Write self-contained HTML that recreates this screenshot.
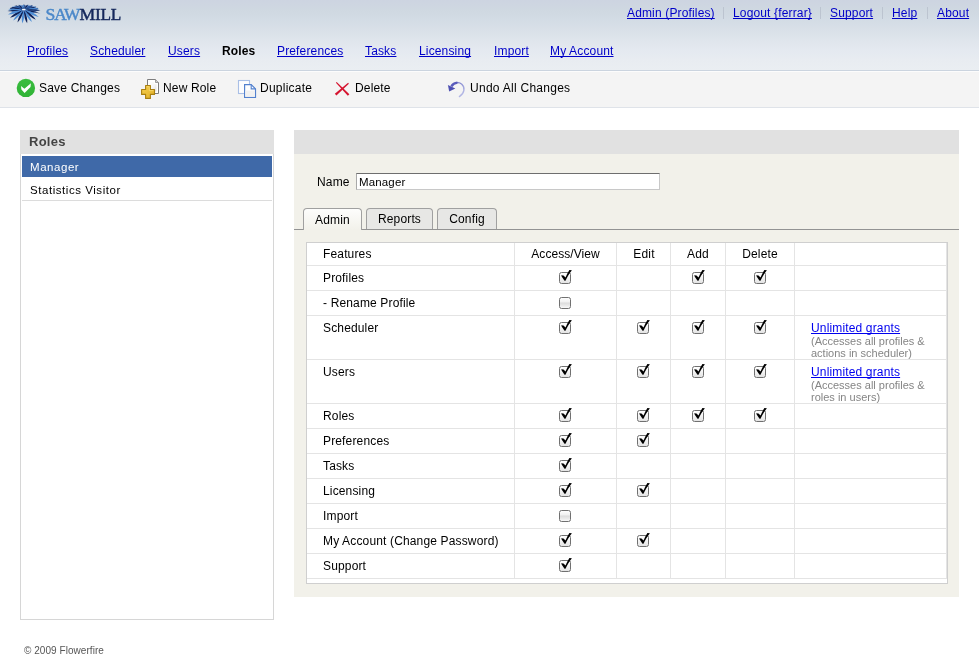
<!DOCTYPE html>
<html>
<head>
<meta charset="utf-8">
<title>Sawmill - Roles</title>
<style>
html,body{margin:0;padding:0;}
body{width:979px;height:668px;position:relative;overflow:hidden;background:#fff;font-family:"Liberation Sans",sans-serif;font-size:12px;color:#000;letter-spacing:0.15px;}
a{color:#0000ee;text-decoration:underline;text-decoration-skip-ink:none;}
a.h{color:#0000c8;}
.abs{position:absolute;}
#wrap{position:absolute;left:0;top:0;width:979px;height:668px;will-change:transform;}
#header{left:0;top:0;width:979px;height:70px;background:linear-gradient(#cdd4e1 0px,#cfd8e1 10px,#d3dce5 20px,#d9e0e8 30px,#dfe5ec 40px,#e4e9f0 50px,#e8ecf1 60px,#eaeef2 70px);}
#hline{left:0;top:70px;width:979px;height:1px;background:#cbd4df;}
#hline2{left:0;top:71px;width:979px;height:1px;background:#fcfcfc;}
#toolbar{left:0;top:71px;width:979px;height:36px;background:#f4f4f4;}
#tline{left:0;top:107px;width:979px;height:1px;background:#dfe3e9;}
.t{position:absolute;white-space:nowrap;line-height:14px;}
.sep{position:absolute;top:7px;width:1px;height:12px;background:#bcc4d0;}
.lg{white-space:nowrap;font-family:"Liberation Serif",serif;line-height:20px;}
.lg{-webkit-text-stroke:0.45px currentColor;}
.s1{font-size:17.7px;}
.s2{font-size:17.3px;}
#lgS{letter-spacing:-1.2px;}
#lgM{letter-spacing:-0.3px;}
/* left panel */
#lp{left:20px;top:130px;width:252px;height:488px;border:1px solid #d6d6d6;background:#fff;}
#lph{left:20px;top:130px;width:254px;height:24px;background:#e1e1e1;}
#sel{left:22px;top:156px;width:250px;height:21px;background:#3f69a8;}
#lrow{left:22px;top:200px;width:250px;height:1px;background:#dcdcdc;}
.vd{letter-spacing:0.55px;font-size:11.5px;}
/* right panel */
#rp{left:294px;top:130px;width:665px;height:467px;background:#f2f1ea;}
#rph{left:294px;top:130px;width:665px;height:24px;background:#e1e1e1;}
#inp{left:356px;top:173px;width:302px;height:15px;background:#fff;border:1px solid #c8c8c8;border-top-color:#6e6e6e;border-left-color:#a9a9a9;}
#tabline{left:294px;top:229px;width:665px;height:1px;background:#939393;}
.tab{position:absolute;top:208px;height:21px;box-sizing:border-box;border:1px solid #a0a0a0;border-bottom:none;border-radius:4px 4px 0 0;background:#e7e7e5;text-align:center;line-height:20px;}
.tab.on{background:linear-gradient(#fdfdfc,#f2f1ea);height:22px;line-height:22px;}
/* table */
#tbl{left:306px;top:242px;width:640px;height:340px;background:#fff;border:1px solid #cfcfcf;}
.hl{position:absolute;left:307px;width:640px;height:1px;background:#e4e4e4;}
.vl{position:absolute;top:243px;width:1px;height:336px;background:#e4e4e4;}
.cb{position:absolute;width:10px;height:10px;border:1px solid #707070;border-radius:2.5px;background:linear-gradient(#fdfdfd 0%,#f2f2f2 35%,#dddddd 52%,#e9e9e9 75%,#f8f8f8 100%);}
.cb.on{background:linear-gradient(#ffffff,#f7f7f7 40%,#e3e3e3);}
.ck{position:absolute;width:16px;height:16px;}
.note{position:absolute;font-size:11px;color:#858585;line-height:12px;white-space:nowrap;}
</style>
</head>
<body>
<div id="wrap">
<div id="header" class="abs"></div>
<div id="hline" class="abs"></div>
<div id="toolbar" class="abs"></div>
<div id="tline" class="abs"></div>
<div id="hline2" class="abs"></div>


<!--ICONS-->
<svg class="abs" style="left:0;top:0;" width="48" height="28" viewBox="0 0 48 28"><ellipse cx="24" cy="9.6" rx="13.6" ry="4.3" fill="#2f62ae" opacity="0.8"/><path d="M23.8 9.5 L8.86 10.09" stroke="#5a98dc" stroke-width="0.9"/><path d="M23.8 9.5 L10.08 8.34" stroke="#0e2158" stroke-width="0.9"/><path d="M23.8 9.5 L12.44 6.81" stroke="#5a98dc" stroke-width="0.9"/><path d="M23.8 9.5 L15.73 5.62" stroke="#0e2158" stroke-width="0.9"/><path d="M23.8 9.5 L19.69 4.86" stroke="#5a98dc" stroke-width="0.9"/><path d="M23.8 9.5 L24.00 4.60" stroke="#0e2158" stroke-width="0.9"/><path d="M23.8 9.5 L28.31 4.86" stroke="#5a98dc" stroke-width="0.9"/><path d="M23.8 9.5 L32.27 5.62" stroke="#0e2158" stroke-width="0.9"/><path d="M23.8 9.5 L35.56 6.81" stroke="#5a98dc" stroke-width="0.9"/><path d="M23.8 9.5 L37.92 8.34" stroke="#0e2158" stroke-width="0.9"/><path d="M23.8 9.5 L39.14 10.09" stroke="#5a98dc" stroke-width="0.9"/><path d="M24.97 9.78 Q33.04 13.26 40.33 13.48 Q33.74 10.35 24.97 9.78 Z" fill="#0e2158"/><path d="M24.87 10.03 Q31.48 15.78 38.73 16.92 Q33.44 11.82 24.87 10.03 Z" fill="#4e8ed6"/><path d="M24.71 10.28 Q29.33 17.18 35.82 19.86 Q32.22 13.84 24.71 10.28 Z" fill="#0e2158"/><path d="M24.45 10.51 Q26.62 17.97 31.87 22.04 Q30.34 15.58 24.45 10.51 Z" fill="#4e8ed6"/><path d="M24.09 10.66 Q23.63 18.02 27.21 23.27 Q27.92 16.96 24.09 10.66 Z" fill="#0e2158"/><path d="M23.67 10.69 Q20.71 17.34 22.26 23.43 Q25.11 17.82 23.67 10.69 Z" fill="#4e8ed6"/><path d="M23.28 10.58 Q18.14 16.08 17.47 22.52 Q22.12 18.02 23.28 10.58 Z" fill="#0e2158"/><path d="M22.97 10.37 Q16.09 14.42 13.27 20.61 Q19.29 17.46 22.97 10.37 Z" fill="#4e8ed6"/><path d="M22.77 10.12 Q14.66 12.46 10.01 17.87 Q16.95 16.24 22.77 10.12 Z" fill="#0e2158"/><path d="M22.66 9.86 Q13.96 10.32 8.00 14.54 Q15.31 14.53 22.66 9.86 Z" fill="#4e8ed6"/><path d="M22.61 9.62 Q14.15 8.93 7.41 11.09 Q14.44 11.91 22.61 9.62 Z" fill="#0e2158"/><path d="M22.60 9.46 Q14.85 7.74 8.29 9.04 Q14.76 10.73 22.60 9.46 Z" fill="#4e8ed6"/><path d="M22.62 9.29 Q16.38 6.68 10.57 7.19 Q15.87 9.63 22.62 9.29 Z" fill="#0e2158"/><path d="M22.68 9.06 Q18.68 5.90 14.04 5.70 Q17.60 8.69 22.68 9.06 Z" fill="#2b5ca8"/><path d="M22.90 8.70 Q21.66 5.60 18.40 4.71 Q19.68 7.84 22.90 8.70 Z" fill="#0e2158"/><path d="M23.68 8.31 Q24.97 6.33 23.26 4.31 Q22.00 6.64 23.68 8.31 Z" fill="#4e8ed6"/><path d="M24.59 8.60 Q27.46 7.60 28.18 4.53 Q25.22 5.63 24.59 8.60 Z" fill="#0e2158"/><path d="M24.89 8.99 Q29.61 8.45 32.73 5.35 Q28.35 5.73 24.89 8.99 Z" fill="#2b5ca8"/><path d="M24.97 9.24 Q31.49 9.33 36.50 6.69 Q30.84 6.41 24.97 9.24 Z" fill="#0e2158"/><path d="M25.00 9.42 Q32.81 10.38 39.17 8.45 Q32.61 7.40 25.00 9.42 Z" fill="#4e8ed6"/><path d="M25.00 9.57 Q33.39 11.55 40.48 10.46 Q33.56 8.57 25.00 9.57 Z" fill="#0e2158"/><ellipse cx="23.8" cy="9.5" rx="1.9" ry="0.85" fill="#f4f7fb"/></svg>
<span class="abs lg" id="lgS" style="left:45.5px;top:4px;color:#4b88c9;"><span class="s1">S</span><span class="s2">AW</span></span><span class="abs lg" id="lgM" style="left:79.6px;top:4px;color:#14275b;"><span class="s1">M</span><span class="s2">ILL</span></span>
<svg class="abs" style="left:12px;top:74px;" width="30" height="30" viewBox="12 74 30 30">
<defs><linearGradient id="gsv" x1="0" y1="0" x2="0" y2="1"><stop offset="0" stop-color="#3bbd40"/><stop offset="1" stop-color="#2fb335"/></linearGradient></defs>
<circle cx="25.9" cy="87.9" r="9.2" fill="url(#gsv)"/>
<path d="M21 85.9 L24.4 88.8 L30.9 83.2 L30.5 87.1 L24.6 92.9 L21.4 89.4 Z" fill="#fff"/>
</svg>
<svg class="abs" style="left:138px;top:76px;" width="26" height="26" viewBox="138 76 26 26">
<defs>
<linearGradient id="gpg" x1="0" y1="0" x2="1" y2="1"><stop offset="0" stop-color="#ffffff"/><stop offset="0.5" stop-color="#f4f4f4"/><stop offset="1" stop-color="#dcdcdc"/></linearGradient>
<linearGradient id="gpl" x1="0" y1="0" x2="1" y2="1"><stop offset="0" stop-color="#f6cf52"/><stop offset="0.5" stop-color="#ecc03a"/><stop offset="1" stop-color="#dfae2a"/></linearGradient>
</defs>
<path d="M147.5 79.5 H155.5 L158.5 82.5 V93.5 H147.5 Z" fill="#fff" stroke="#7d7d7d" stroke-width="1"/>
<path d="M149.5 82 H154 V84 H156.5 V91.5 H149.5 Z" fill="url(#gpg)" opacity="0.9"/>
<path d="M155.5 79.5 V82.5 H158.5" fill="#d0d0d0" stroke="#8a8a8a" stroke-width="0.8"/>
<path d="M145.6 85.5 H150.4 V89.5 H154.5 V94.4 H150.4 V98.4 H145.6 V94.4 H141.6 V89.5 H145.6 Z" fill="url(#gpl)" stroke="#a97f10" stroke-width="1.1" stroke-linejoin="round"/>
<path d="M146.7 86.7 H149.3 V90.6 H153.3" fill="none" stroke="#f9de7c" stroke-width="0.8" opacity="0.9"/>
</svg>
<svg class="abs" style="left:234px;top:76px;" width="28" height="26" viewBox="234 76 28 26">
<rect x="238.5" y="80.5" width="11" height="13" fill="#fdfdfe" stroke="#a9bfe6" stroke-width="1.1"/>
<path d="M244.6 84.6 H251.2 L255.5 88.9 V97.4 H244.6 Z" fill="#fefefe" stroke="#5381ce" stroke-width="1.2" stroke-linejoin="miter"/>
<rect x="245.3" y="90.5" width="9.6" height="6.3" fill="#f1f1f1"/>
<path d="M251.2 84.6 V88.9 H255.5" fill="none" stroke="#5381ce" stroke-width="1.1"/>
</svg>
<svg class="abs" style="left:330px;top:76px;" width="24" height="26" viewBox="330 76 24 26">
<path d="M335.91 82.79 L347.82 95.67 L349.38 94.13 L336.69 82.01 Z" fill="#d5142f"/>
<path d="M348.1 82.75 L334.81 93.7 L336.39 95.5 L348.9 83.65 Z" fill="#d5142f"/>
</svg>
<svg class="abs" style="left:444px;top:78px;" width="26" height="24" viewBox="444 78 26 24">
<defs><linearGradient id="gun" x1="0" y1="0" x2="1" y2="1"><stop offset="0" stop-color="#4c4eb6"/><stop offset="0.4" stop-color="#8a8ed2"/><stop offset="1" stop-color="#c3c7ec"/></linearGradient></defs>
<path d="M451.8 85.6 C454 82.6 458.8 81.6 461.8 84.2 C465.4 87.4 464.6 93.2 459.4 96.6" fill="none" stroke="url(#gun)" stroke-width="1.35" stroke-linecap="round"/>
<path d="M451.4 86.4 C452.6 84.2 455 82.8 457.4 82.6" fill="none" stroke="#5a5cbc" stroke-width="2.3"/>
<path d="M447.9 85 L455.3 88.4 L449.2 91.5 Z" fill="#4d50b2"/>
</svg>
<!--/ICONS-->
<!-- top right links -->
<a class="t h" style="left:627px;top:6px;">Admin (Profiles)</a>
<div class="sep" style="left:723px;"></div>
<a class="t h" style="left:733px;top:6px;">Logout {ferrar}</a>
<div class="sep" style="left:820px;"></div>
<a class="t h" style="left:830px;top:6px;">Support</a>
<div class="sep" style="left:882px;"></div>
<a class="t h" style="left:892px;top:6px;">Help</a>
<div class="sep" style="left:927px;"></div>
<a class="t h" style="left:937px;top:6px;">About</a>

<!-- nav -->
<a class="t h" style="left:27px;top:44px;">Profiles</a>
<a class="t h" style="left:90px;top:44px;">Scheduler</a>
<a class="t h" style="left:168px;top:44px;">Users</a>
<span class="t" style="left:222px;top:44px;font-weight:bold;">Roles</span>
<a class="t h" style="left:277px;top:44px;">Preferences</a>
<a class="t h" style="left:365px;top:44px;">Tasks</a>
<a class="t h" style="left:419px;top:44px;">Licensing</a>
<a class="t h" style="left:494px;top:44px;">Import</a>
<a class="t h" style="left:550px;top:44px;">My Account</a>

<!-- toolbar text -->
<span class="t" style="left:39px;top:81px;letter-spacing:0.2px;">Save Changes</span>
<span class="t" style="left:163px;top:81px;">New Role</span>
<span class="t" style="left:260px;top:81px;letter-spacing:0.25px;">Duplicate</span>
<span class="t" style="left:355px;top:81px;">Delete</span>
<span class="t" style="left:470px;top:81px;letter-spacing:0.27px;">Undo All Changes</span>

<!-- left panel -->
<div id="lp" class="abs"></div>
<div id="lph" class="abs"></div>
<span class="t" style="left:29px;top:135px;font-weight:bold;font-size:13px;color:#444;letter-spacing:0.25px;">Roles</span>
<div id="sel" class="abs"></div>
<span class="t vd" style="left:30px;top:160px;color:#fff;">Manager</span>
<span class="t vd" style="left:30px;top:183px;">Statistics Visitor</span>
<div id="lrow" class="abs"></div>

<!-- right panel -->
<div id="rp" class="abs"></div>
<div id="rph" class="abs"></div>
<span class="t" style="left:317px;top:175px;">Name</span>
<div id="inp" class="abs"></div>
<span class="t" style="left:359px;top:175px;font-size:11.5px;">Manager</span>
<div id="tabline" class="abs"></div>
<div class="tab on" style="left:303px;width:59px;">Admin</div>
<div class="tab" style="left:366px;width:67px;">Reports</div>
<div class="tab" style="left:437px;width:60px;">Config</div>

<div id="tbl" class="abs"></div>
<!--TBL-->
<div class="hl" style="top:265px;"></div>
<div class="hl" style="top:290px;"></div>
<div class="hl" style="top:315px;"></div>
<div class="hl" style="top:359px;"></div>
<div class="hl" style="top:403px;"></div>
<div class="hl" style="top:428px;"></div>
<div class="hl" style="top:453px;"></div>
<div class="hl" style="top:478px;"></div>
<div class="hl" style="top:503px;"></div>
<div class="hl" style="top:528px;"></div>
<div class="hl" style="top:553px;"></div>
<div class="hl" style="top:578px;"></div>
<div class="vl" style="left:514px;"></div>
<div class="vl" style="left:616px;"></div>
<div class="vl" style="left:670px;"></div>
<div class="vl" style="left:725px;"></div>
<div class="vl" style="left:794px;"></div>
<div class="vl" style="left:946px;"></div>
<span class="t" style="left:323px;top:247px;">Features</span>
<span class="t" style="left:323px;top:271px;">Profiles</span>
<div class="cb on" style="left:559px;top:272px;"></div><svg class="ck" style="left:559px;top:268px;" viewBox="0 0 16 16"><path d="M2.2 7.2 L4.5 7.5 L6.5 9.4 C7.6 6.7 9 4.2 10.4 2.1 L12.9 2.3 C10.4 5.4 8.2 9 6.5 12.8 L5.5 12.8 L2.8 8.7 Z" fill="#000"/></svg>
<div class="cb on" style="left:692px;top:272px;"></div><svg class="ck" style="left:692px;top:268px;" viewBox="0 0 16 16"><path d="M2.2 7.2 L4.5 7.5 L6.5 9.4 C7.6 6.7 9 4.2 10.4 2.1 L12.9 2.3 C10.4 5.4 8.2 9 6.5 12.8 L5.5 12.8 L2.8 8.7 Z" fill="#000"/></svg>
<div class="cb on" style="left:754px;top:272px;"></div><svg class="ck" style="left:754px;top:268px;" viewBox="0 0 16 16"><path d="M2.2 7.2 L4.5 7.5 L6.5 9.4 C7.6 6.7 9 4.2 10.4 2.1 L12.9 2.3 C10.4 5.4 8.2 9 6.5 12.8 L5.5 12.8 L2.8 8.7 Z" fill="#000"/></svg>
<span class="t" style="left:323px;top:296px;">- Rename Profile</span>
<div class="cb" style="left:559px;top:297px;"></div>
<span class="t" style="left:323px;top:321px;">Scheduler</span>
<div class="cb on" style="left:559px;top:322px;"></div><svg class="ck" style="left:559px;top:318px;" viewBox="0 0 16 16"><path d="M2.2 7.2 L4.5 7.5 L6.5 9.4 C7.6 6.7 9 4.2 10.4 2.1 L12.9 2.3 C10.4 5.4 8.2 9 6.5 12.8 L5.5 12.8 L2.8 8.7 Z" fill="#000"/></svg>
<div class="cb on" style="left:637px;top:322px;"></div><svg class="ck" style="left:637px;top:318px;" viewBox="0 0 16 16"><path d="M2.2 7.2 L4.5 7.5 L6.5 9.4 C7.6 6.7 9 4.2 10.4 2.1 L12.9 2.3 C10.4 5.4 8.2 9 6.5 12.8 L5.5 12.8 L2.8 8.7 Z" fill="#000"/></svg>
<div class="cb on" style="left:692px;top:322px;"></div><svg class="ck" style="left:692px;top:318px;" viewBox="0 0 16 16"><path d="M2.2 7.2 L4.5 7.5 L6.5 9.4 C7.6 6.7 9 4.2 10.4 2.1 L12.9 2.3 C10.4 5.4 8.2 9 6.5 12.8 L5.5 12.8 L2.8 8.7 Z" fill="#000"/></svg>
<div class="cb on" style="left:754px;top:322px;"></div><svg class="ck" style="left:754px;top:318px;" viewBox="0 0 16 16"><path d="M2.2 7.2 L4.5 7.5 L6.5 9.4 C7.6 6.7 9 4.2 10.4 2.1 L12.9 2.3 C10.4 5.4 8.2 9 6.5 12.8 L5.5 12.8 L2.8 8.7 Z" fill="#000"/></svg>
<span class="t" style="left:323px;top:365px;">Users</span>
<div class="cb on" style="left:559px;top:366px;"></div><svg class="ck" style="left:559px;top:362px;" viewBox="0 0 16 16"><path d="M2.2 7.2 L4.5 7.5 L6.5 9.4 C7.6 6.7 9 4.2 10.4 2.1 L12.9 2.3 C10.4 5.4 8.2 9 6.5 12.8 L5.5 12.8 L2.8 8.7 Z" fill="#000"/></svg>
<div class="cb on" style="left:637px;top:366px;"></div><svg class="ck" style="left:637px;top:362px;" viewBox="0 0 16 16"><path d="M2.2 7.2 L4.5 7.5 L6.5 9.4 C7.6 6.7 9 4.2 10.4 2.1 L12.9 2.3 C10.4 5.4 8.2 9 6.5 12.8 L5.5 12.8 L2.8 8.7 Z" fill="#000"/></svg>
<div class="cb on" style="left:692px;top:366px;"></div><svg class="ck" style="left:692px;top:362px;" viewBox="0 0 16 16"><path d="M2.2 7.2 L4.5 7.5 L6.5 9.4 C7.6 6.7 9 4.2 10.4 2.1 L12.9 2.3 C10.4 5.4 8.2 9 6.5 12.8 L5.5 12.8 L2.8 8.7 Z" fill="#000"/></svg>
<div class="cb on" style="left:754px;top:366px;"></div><svg class="ck" style="left:754px;top:362px;" viewBox="0 0 16 16"><path d="M2.2 7.2 L4.5 7.5 L6.5 9.4 C7.6 6.7 9 4.2 10.4 2.1 L12.9 2.3 C10.4 5.4 8.2 9 6.5 12.8 L5.5 12.8 L2.8 8.7 Z" fill="#000"/></svg>
<span class="t" style="left:323px;top:409px;">Roles</span>
<div class="cb on" style="left:559px;top:410px;"></div><svg class="ck" style="left:559px;top:406px;" viewBox="0 0 16 16"><path d="M2.2 7.2 L4.5 7.5 L6.5 9.4 C7.6 6.7 9 4.2 10.4 2.1 L12.9 2.3 C10.4 5.4 8.2 9 6.5 12.8 L5.5 12.8 L2.8 8.7 Z" fill="#000"/></svg>
<div class="cb on" style="left:637px;top:410px;"></div><svg class="ck" style="left:637px;top:406px;" viewBox="0 0 16 16"><path d="M2.2 7.2 L4.5 7.5 L6.5 9.4 C7.6 6.7 9 4.2 10.4 2.1 L12.9 2.3 C10.4 5.4 8.2 9 6.5 12.8 L5.5 12.8 L2.8 8.7 Z" fill="#000"/></svg>
<div class="cb on" style="left:692px;top:410px;"></div><svg class="ck" style="left:692px;top:406px;" viewBox="0 0 16 16"><path d="M2.2 7.2 L4.5 7.5 L6.5 9.4 C7.6 6.7 9 4.2 10.4 2.1 L12.9 2.3 C10.4 5.4 8.2 9 6.5 12.8 L5.5 12.8 L2.8 8.7 Z" fill="#000"/></svg>
<div class="cb on" style="left:754px;top:410px;"></div><svg class="ck" style="left:754px;top:406px;" viewBox="0 0 16 16"><path d="M2.2 7.2 L4.5 7.5 L6.5 9.4 C7.6 6.7 9 4.2 10.4 2.1 L12.9 2.3 C10.4 5.4 8.2 9 6.5 12.8 L5.5 12.8 L2.8 8.7 Z" fill="#000"/></svg>
<span class="t" style="left:323px;top:434px;">Preferences</span>
<div class="cb on" style="left:559px;top:435px;"></div><svg class="ck" style="left:559px;top:431px;" viewBox="0 0 16 16"><path d="M2.2 7.2 L4.5 7.5 L6.5 9.4 C7.6 6.7 9 4.2 10.4 2.1 L12.9 2.3 C10.4 5.4 8.2 9 6.5 12.8 L5.5 12.8 L2.8 8.7 Z" fill="#000"/></svg>
<div class="cb on" style="left:637px;top:435px;"></div><svg class="ck" style="left:637px;top:431px;" viewBox="0 0 16 16"><path d="M2.2 7.2 L4.5 7.5 L6.5 9.4 C7.6 6.7 9 4.2 10.4 2.1 L12.9 2.3 C10.4 5.4 8.2 9 6.5 12.8 L5.5 12.8 L2.8 8.7 Z" fill="#000"/></svg>
<span class="t" style="left:323px;top:459px;">Tasks</span>
<div class="cb on" style="left:559px;top:460px;"></div><svg class="ck" style="left:559px;top:456px;" viewBox="0 0 16 16"><path d="M2.2 7.2 L4.5 7.5 L6.5 9.4 C7.6 6.7 9 4.2 10.4 2.1 L12.9 2.3 C10.4 5.4 8.2 9 6.5 12.8 L5.5 12.8 L2.8 8.7 Z" fill="#000"/></svg>
<span class="t" style="left:323px;top:484px;">Licensing</span>
<div class="cb on" style="left:559px;top:485px;"></div><svg class="ck" style="left:559px;top:481px;" viewBox="0 0 16 16"><path d="M2.2 7.2 L4.5 7.5 L6.5 9.4 C7.6 6.7 9 4.2 10.4 2.1 L12.9 2.3 C10.4 5.4 8.2 9 6.5 12.8 L5.5 12.8 L2.8 8.7 Z" fill="#000"/></svg>
<div class="cb on" style="left:637px;top:485px;"></div><svg class="ck" style="left:637px;top:481px;" viewBox="0 0 16 16"><path d="M2.2 7.2 L4.5 7.5 L6.5 9.4 C7.6 6.7 9 4.2 10.4 2.1 L12.9 2.3 C10.4 5.4 8.2 9 6.5 12.8 L5.5 12.8 L2.8 8.7 Z" fill="#000"/></svg>
<span class="t" style="left:323px;top:509px;">Import</span>
<div class="cb" style="left:559px;top:510px;"></div>
<span class="t" style="left:323px;top:534px;">My Account (Change Password)</span>
<div class="cb on" style="left:559px;top:535px;"></div><svg class="ck" style="left:559px;top:531px;" viewBox="0 0 16 16"><path d="M2.2 7.2 L4.5 7.5 L6.5 9.4 C7.6 6.7 9 4.2 10.4 2.1 L12.9 2.3 C10.4 5.4 8.2 9 6.5 12.8 L5.5 12.8 L2.8 8.7 Z" fill="#000"/></svg>
<div class="cb on" style="left:637px;top:535px;"></div><svg class="ck" style="left:637px;top:531px;" viewBox="0 0 16 16"><path d="M2.2 7.2 L4.5 7.5 L6.5 9.4 C7.6 6.7 9 4.2 10.4 2.1 L12.9 2.3 C10.4 5.4 8.2 9 6.5 12.8 L5.5 12.8 L2.8 8.7 Z" fill="#000"/></svg>
<span class="t" style="left:323px;top:559px;">Support</span>
<div class="cb on" style="left:559px;top:560px;"></div><svg class="ck" style="left:559px;top:556px;" viewBox="0 0 16 16"><path d="M2.2 7.2 L4.5 7.5 L6.5 9.4 C7.6 6.7 9 4.2 10.4 2.1 L12.9 2.3 C10.4 5.4 8.2 9 6.5 12.8 L5.5 12.8 L2.8 8.7 Z" fill="#000"/></svg>
<span class="t hc" style="letter-spacing:0.05px;left:515.5px;top:247px;width:100px;text-align:center;">Access/View</span>
<span class="t hc" style="left:594px;top:247px;width:100px;text-align:center;">Edit</span>
<span class="t hc" style="left:648px;top:247px;width:100px;text-align:center;">Add</span>
<span class="t hc" style="left:710px;top:247px;width:100px;text-align:center;">Delete</span>
<a class="t" style="left:811px;top:321px;">Unlimited grants</a>
<span class="note" style="letter-spacing:0;left:811px;top:335px;">(Accesses all profiles &amp;<br>actions in scheduler)</span>
<a class="t" style="left:811px;top:365px;">Unlimited grants</a>
<span class="note" style="letter-spacing:0;left:811px;top:379px;">(Accesses all profiles &amp;<br>roles in users)</span>
<!--/TBL-->

<span class="t" style="left:24px;top:644px;font-size:10px;color:#555;letter-spacing:0.05px;">© 2009 Flowerfire</span>
</div>
</body>
</html>
